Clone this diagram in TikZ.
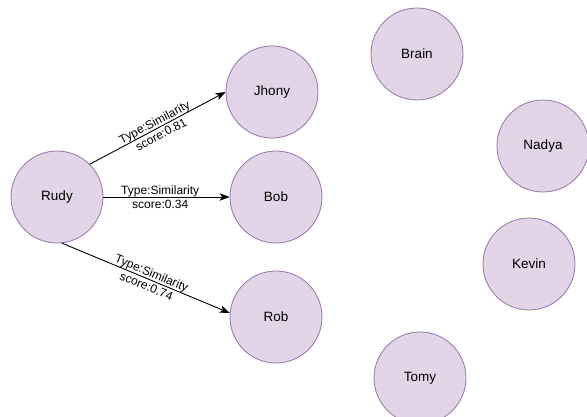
\documentclass[tikz,border=0pt]{standalone}
\usepackage{fontspec}
\setmainfont{Liberation Sans}
\usetikzlibrary{arrows.meta}
\definecolor{nodefill}{HTML}{E1D5E7}
\definecolor{nodeline}{HTML}{9673A6}
\tikzset{
  per/.style={circle, draw=nodeline, fill=nodefill, line width=.8pt, minimum size=92pt, inner sep=0pt, font=\fontsize{13.5}{16}\selectfont},
  ar/.style={-{Stealth[length=10pt, width=7.5pt, inset=2.5pt]}, line width=.9pt, draw=black},
  lbl/.style={font=\fontsize{12}{14}\selectfont, align=center, sloped, inner sep=0pt},
}
\begin{document}
\begin{tikzpicture}[x=1pt, y=1pt]
        \useasboundingbox (0,0) rectangle (587,417);
        \clip (0,0) rectangle (587,417);
        % people
        \node[per] (rudy)  at (57,220)  {Rudy};
        \node[per] (jhony) at (272,325) {Jhony};
        \node[per] (bob)   at (276,220) {Bob};
        \node[per] (rob)   at (276,100) {Rob};
        \node[per] (brain) at (417,363) {Brain};
        \node[per] (nadya) at (543,271) {Nadya};
        \node[per] (kevin) at (529,153) {Kevin};
        \node[per] (tomy)  at (420,39)  {Tomy};
        % similarity links
        \draw[ar] (rudy.45) -- (jhony.west) node[lbl, midway] {Type:Similarity\\score:0.81};
        \draw[ar] (rudy.east) -- (bob.west) node[lbl, pos=.45] {Type:Similarity\\score:0.34};
        \draw[ar] (rudy.-84) -- (rob.175) node[lbl, pos=.52] {Type:Similarity\\score:0.74};
      \end{tikzpicture}
\end{document}
